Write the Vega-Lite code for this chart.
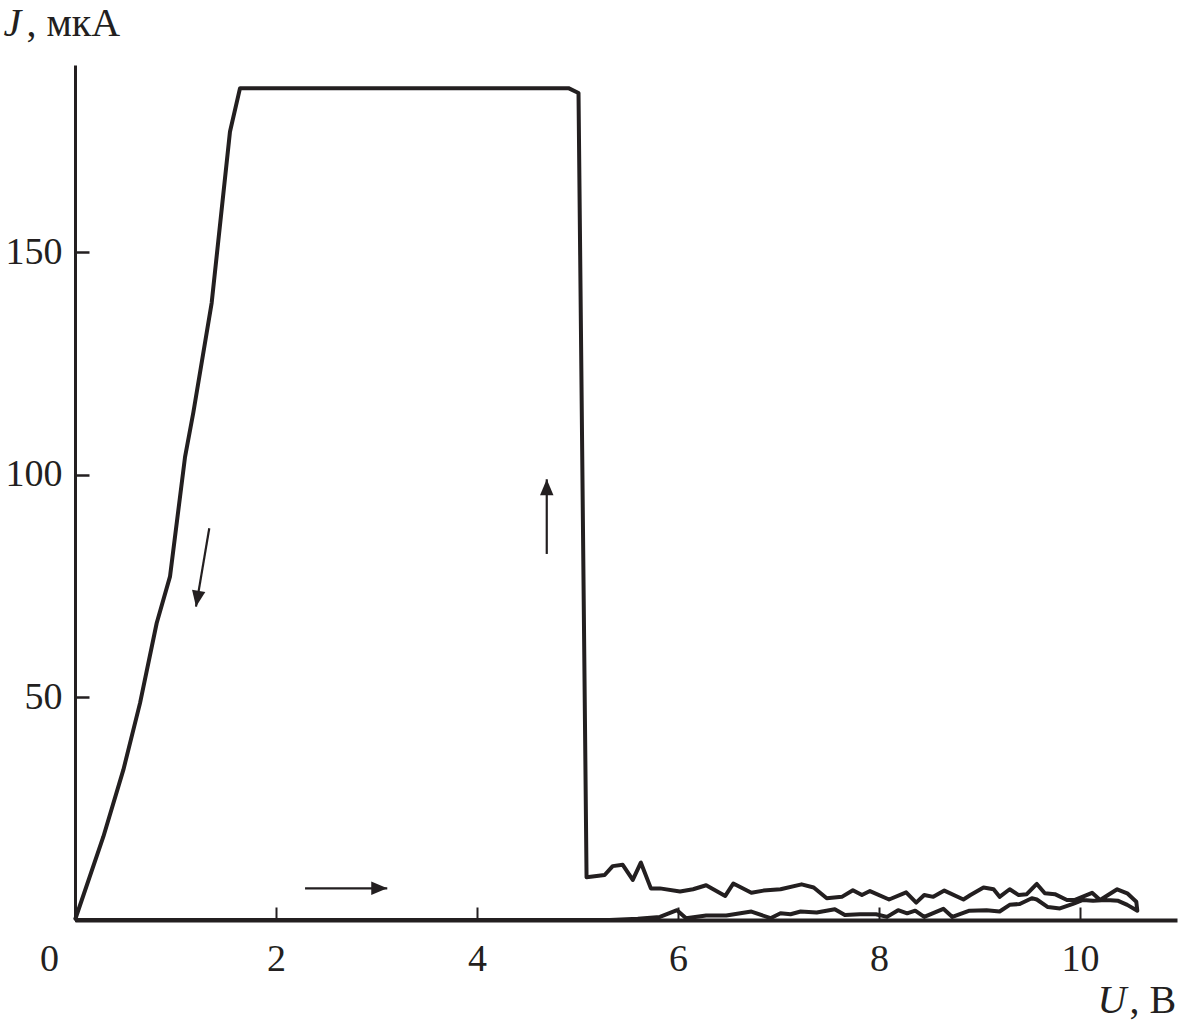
{
  "$schema": "https://vega.github.io/schema/vega-lite/v6.json",
  "width": 1102,
  "height": 855,
  "autosize": {"type": "none"},
  "padding": {"left": 75, "top": 65, "right": 3, "bottom": 110},
  "background": "white",
  "datasets": {
    "curve": [
      {"i":1,"U":0,"J":0},{"i":2,"U":5.32,"J":0},{"i":3,"U":5.6,"J":0.3},{"i":4,"U":5.82,"J":0.7},
      {"i":5,"U":5.99,"J":2.2},{"i":6,"U":6.08,"J":0.4},{"i":7,"U":6.28,"J":1.0},{"i":8,"U":6.48,"J":1.0},
      {"i":9,"U":6.73,"J":1.9},{"i":10,"U":6.92,"J":0.4},{"i":11,"U":7.02,"J":1.5},{"i":12,"U":7.12,"J":1.3},
      {"i":13,"U":7.22,"J":1.9},{"i":14,"U":7.38,"J":1.7},{"i":15,"U":7.56,"J":2.4},{"i":16,"U":7.66,"J":1.1},
      {"i":17,"U":7.81,"J":1.3},{"i":18,"U":7.97,"J":1.3},{"i":19,"U":8.08,"J":0.7},{"i":20,"U":8.19,"J":2.2},
      {"i":21,"U":8.28,"J":1.5},{"i":22,"U":8.36,"J":2.1},{"i":23,"U":8.45,"J":0.7},{"i":24,"U":8.64,"J":2.5},
      {"i":25,"U":8.73,"J":0.7},{"i":26,"U":8.90,"J":2.1},{"i":27,"U":9.07,"J":2.2},{"i":28,"U":9.20,"J":1.9},
      {"i":29,"U":9.30,"J":3.4},{"i":30,"U":9.40,"J":3.6},{"i":31,"U":9.52,"J":4.9},{"i":32,"U":9.57,"J":4.6},
      {"i":33,"U":9.68,"J":2.9},{"i":34,"U":9.80,"J":2.6},{"i":35,"U":9.93,"J":3.6},{"i":36,"U":10.03,"J":4.5},
      {"i":37,"U":10.13,"J":4.3},{"i":38,"U":10.26,"J":4.5},{"i":39,"U":10.38,"J":4.3},{"i":40,"U":10.47,"J":3.4},
      {"i":41,"U":10.57,"J":2.1},{"i":42,"U":10.56,"J":4.1},{"i":43,"U":10.47,"J":6.0},{"i":44,"U":10.37,"J":6.9},
      {"i":45,"U":10.20,"J":4.5},{"i":46,"U":10.12,"J":6.1},{"i":47,"U":9.95,"J":4.5},{"i":48,"U":9.87,"J":4.5},
      {"i":49,"U":9.75,"J":5.8},{"i":50,"U":9.65,"J":6.0},{"i":51,"U":9.57,"J":8.1},{"i":52,"U":9.47,"J":5.8},
      {"i":53,"U":9.39,"J":5.6},{"i":54,"U":9.30,"J":6.9},{"i":55,"U":9.20,"J":5.2},{"i":56,"U":9.14,"J":6.9},
      {"i":57,"U":9.04,"J":7.3},{"i":58,"U":8.91,"J":5.6},{"i":59,"U":8.84,"J":4.6},{"i":60,"U":8.65,"J":6.6},
      {"i":61,"U":8.54,"J":5.2},{"i":62,"U":8.45,"J":5.6},{"i":63,"U":8.37,"J":3.9},{"i":64,"U":8.27,"J":6.2},
      {"i":65,"U":8.10,"J":4.6},{"i":66,"U":7.91,"J":6.5},{"i":67,"U":7.83,"J":5.6},{"i":68,"U":7.74,"J":6.7},
      {"i":69,"U":7.63,"J":5.2},{"i":70,"U":7.48,"J":4.9},{"i":71,"U":7.35,"J":7.3},{"i":72,"U":7.23,"J":8.0},
      {"i":73,"U":7.02,"J":6.9},{"i":74,"U":6.85,"J":6.6},{"i":75,"U":6.73,"J":6.1},{"i":76,"U":6.55,"J":8.2},
      {"i":77,"U":6.47,"J":5.4},{"i":78,"U":6.28,"J":7.8},{"i":79,"U":6.15,"J":6.9},{"i":80,"U":6.02,"J":6.4},
      {"i":81,"U":5.82,"J":7.1},{"i":82,"U":5.73,"J":7.1},{"i":83,"U":5.63,"J":12.9},{"i":84,"U":5.55,"J":9.0},
      {"i":85,"U":5.45,"J":12.4},{"i":86,"U":5.35,"J":12.1},{"i":87,"U":5.27,"J":10.1},{"i":88,"U":5.09,"J":9.6},
      {"i":89,"U":5.01,"J":185.7},{"i":90,"U":4.91,"J":186.8},{"i":91,"U":1.642,"J":186.8},{"i":92,"U":1.542,"J":177.0},
      {"i":93,"U":1.36,"J":138.6},{"i":94,"U":1.177,"J":113.9},{"i":95,"U":1.095,"J":104.0},{"i":96,"U":0.945,"J":77.1},
      {"i":97,"U":0.813,"J":66.7},{"i":98,"U":0.647,"J":48.7},{"i":99,"U":0.481,"J":33.7},{"i":100,"U":0.282,"J":18.7},
      {"i":101,"U":0,"J":0}
    ],
    "arrows": [
      {"id":"a1","U":1.336,"J":87.96,"U2":1.204,"J2":70.36},
      {"id":"a2","U":2.289,"J":7.12,"U2":3.107,"J2":7.12},
      {"id":"a3","U":4.694,"J":82.2,"U2":4.694,"J2":98.97}
    ]
  },
  "config": {
    "view": {"stroke": null},
    "axis": {
      "grid": false,
      "labelFont": "Liberation Serif",
      "titleFont": "Liberation Serif",
      "labelColor": "#231f20",
      "titleColor": "#231f20",
      "domainColor": "#231f20",
      "tickColor": "#231f20",
      "labelFontSize": 38,
      "titleFontSize": 40,
      "titleFontWeight": "normal"
    }
  },
  "resolve": {"axis": {"x": "independent", "y": "independent"}},
  "layer": [
    {
      "data": {"name": "curve"},
      "mark": {"type": "line", "color": "#231f20", "strokeWidth": 4, "strokeJoin": "round"},
      "encoding": {
        "x": {
          "field": "U", "type": "quantitative",
          "scale": {"domain": [0, 10.965], "nice": false, "zero": false},
          "axis": {
            "orient": "bottom",
            "values": [0, 2, 4, 6, 8, 10],
            "domainWidth": 4,
            "tickSize": -13,
            "tickWidth": 2,
            "labelPadding": 33,
            "labelOffset": {"expr": "datum.value == 0 ? -26 : 0"},
            "labelFlush": false,
            "labelOverlap": false,
            "title": "U",
            "titleFontStyle": "italic",
            "titleAlign": "left",
            "titleBaseline": "alphabetic",
            "titleAnchor": null,
            "titleX": 1022,
            "titleY": 92
          }
        },
        "y": {
          "field": "J", "type": "quantitative",
          "scale": {"domain": [0, 192], "nice": false},
          "axis": {
            "orient": "left",
            "values": [50, 100, 150],
            "domainWidth": 3,
            "tickSize": -14,
            "tickWidth": 2.5,
            "labelPadding": 27,
            "labelOverlap": false,
            "title": "J",
            "titleFontStyle": "italic",
            "titleAngle": 0,
            "titleAlign": "left",
            "titleBaseline": "alphabetic",
            "titleX": -72,
            "titleY": -30
          }
        },
        "order": {"field": "i", "type": "quantitative"}
      }
    },
    {
      "data": {"name": "arrows"},
      "mark": {"type": "rule", "color": "#231f20", "strokeWidth": 2.2, "strokeCap": "butt"},
      "encoding": {
        "x": {
          "field": "U", "type": "quantitative",
          "axis": {
            "orient": "top", "labels": false, "ticks": false, "domain": false,
            "title": ", В", "titleAlign": "left", "titleBaseline": "alphabetic",
            "titleX": 1054, "titleY": 947
          }
        },
        "x2": {"field": "U2"},
        "y": {
          "field": "J", "type": "quantitative",
          "axis": {
            "orient": "right", "labels": false, "ticks": false, "domain": false,
            "title": ", мкА", "titleAngle": 0, "titleAlign": "left", "titleBaseline": "alphabetic",
            "titleX": -1151, "titleY": -30
          }
        },
        "y2": {"field": "J2"}
      }
    },
    {
      "data": {"name": "arrows"},
      "transform": [{"filter": "datum.id == 'a1'"}],
      "mark": {"type": "point", "shape": "M0,0L0.42,1L-0.42,1Z", "filled": true, "size": 1024, "angle": 189.6, "color": "#231f20", "opacity": 1, "strokeWidth": 0},
      "encoding": {
        "x": {"field": "U2", "type": "quantitative", "axis": null},
        "y": {"field": "J2", "type": "quantitative", "axis": null}
      }
    },
    {
      "data": {"name": "arrows"},
      "transform": [{"filter": "datum.id == 'a2'"}],
      "mark": {"type": "point", "shape": "M0,0L0.42,1L-0.42,1Z", "filled": true, "size": 1024, "angle": 90, "color": "#231f20", "opacity": 1, "strokeWidth": 0},
      "encoding": {
        "x": {"field": "U2", "type": "quantitative", "axis": null},
        "y": {"field": "J2", "type": "quantitative", "axis": null}
      }
    },
    {
      "data": {"name": "arrows"},
      "transform": [{"filter": "datum.id == 'a3'"}],
      "mark": {"type": "point", "shape": "M0,0L0.42,1L-0.42,1Z", "filled": true, "size": 1024, "angle": 0, "color": "#231f20", "opacity": 1, "strokeWidth": 0},
      "encoding": {
        "x": {"field": "U2", "type": "quantitative", "axis": null},
        "y": {"field": "J2", "type": "quantitative", "axis": null}
      }
    }
  ]
}
